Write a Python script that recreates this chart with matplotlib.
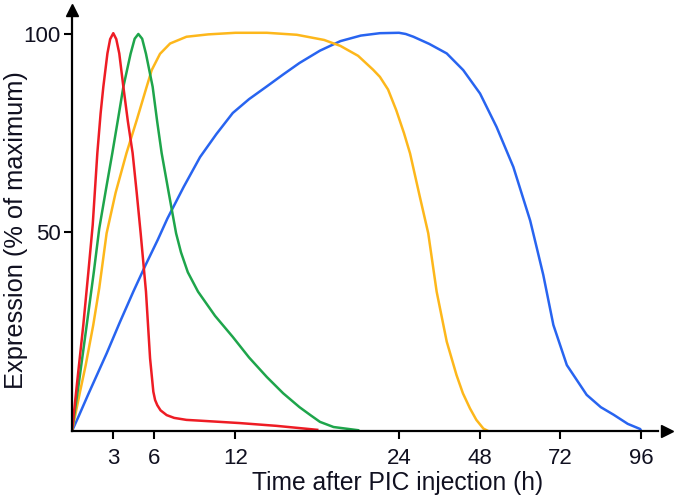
import numpy as np
import matplotlib
matplotlib.use("Agg")
import matplotlib.pyplot as plt

plt.rcParams['font.family'] = ['Liberation Sans', 'DejaVu Sans']

# hours after injection and % of maximum
red_t = [0, 0.4, 0.83, 1.2, 1.52, 1.86, 2.1, 2.3, 2.6, 2.8, 3.03, 3.25, 3.47, 3.77, 4.1, 4.45, 4.75,
         5.04, 5.43, 5.73, 5.97, 6.1, 6.26, 6.5, 6.95, 7.5, 8.4, 9.4, 12.3, 15, 18]
red_y = [0, 13, 26.7, 40, 51.9, 70, 80, 86.7, 95.1, 98.7, 100.2, 98.7, 95.1, 86.7, 78, 70, 60,
         49.8, 35.1, 18.3, 9.9, 7.8, 6.5, 5.2, 4, 3.3, 2.8, 2.6, 2.0, 1.3, 0.3]

green_t = [0, 0.5, 1.08, 1.6, 2.0, 2.5, 2.96, 3.4, 3.77, 4.3, 4.6, 4.87, 5.15, 5.43, 5.92, 6.25, 6.58,
           7.1, 7.64, 8.0, 8.5, 9.25, 10.5, 11.8, 13, 14.3, 15.5, 16.7, 17.5, 18.2, 19.2, 21]
green_y = [0, 12, 26.7, 40, 51, 61, 70, 79, 86.7, 95, 98.8, 100, 98.8, 95, 86.7, 78, 70,
           60, 49.8, 45, 40, 35.1, 29, 23.7, 18.5, 13.6, 9.5, 6, 4, 2.3, 1, 0.2]

yellow_t = [0, 0.59, 1.0, 1.56, 2.0, 2.54, 3.2, 4.0, 4.75, 5.48, 5.85, 6.46, 7.2, 8.4, 10, 12, 14.3,
            16.5, 18.5, 19.7, 21, 22.1, 22.6, 23.2, 23.8, 25.5, 27.3, 30.2, 32.7, 35.2, 38.2, 41.1,
            43, 45.1, 47, 49.1, 50.5]
yellow_y = [0, 9.9, 16.5, 26.7, 36, 49.8, 60, 70, 78.3, 86.7, 90.9, 95, 97.6, 99.3, 99.9, 100.3, 100.3,
            99.8, 98.5, 97, 94.5, 91, 89.2, 86, 80.8, 75, 69.9, 59, 49.8, 35.1, 22.5, 14.1,
            9.5, 5.7, 2.8, 0.6, 0]

blue_t = [0, 0.5, 1.2, 2.55, 3.5, 4.5, 5.4, 6.3, 7.0, 8.2, 9.4, 10.6, 11.8, 13, 14.3, 15.5, 16.7,
          18.2, 19.7, 21.2, 22.6, 24, 26, 28.3, 33, 38.2, 43.1, 48.1, 53, 58, 63, 65, 66.9, 69.9,
          73.9, 79.8, 84, 87.8, 92, 95.7, 96]
blue_y = [0, 3.8, 9.3, 19.6, 27.3, 35.1, 41.8, 48.2, 53.5, 61.5, 69, 74.8, 80.1, 83.6, 86.8, 89.8, 92.7,
          95.8, 98.2, 99.6, 100.2, 100.3, 100, 99.3, 97.5, 95.1, 90.9, 85, 76.6, 66.5, 53, 46, 39.3, 26.7,
          16.6, 9.1, 6, 4.1, 1.8, 0.5, 0]

x_ticks = [3, 6, 12, 24, 48, 72, 96]
y_ticks = [50, 100]

# time axis is linear up to 24 h, then compressed
k = 4.05
def fwd(t):
    t = np.asarray(t, dtype=float)
    return np.where(t <= 24, t, 24 + (t - 24) / k)

def inv(u):
    u = np.asarray(u, dtype=float)
    return np.where(u <= 24, u, 24 + (u - 24) * k)

fig = plt.figure(figsize=(6.75, 4.98), dpi=100)
ax = fig.add_axes([72 / 675, 67 / 498, 600 / 675, 426 / 498])
ax.set_xscale('function', functions=(fwd, inv))

lw = 1.8
ax.plot(blue_t, blue_y, color='#2864f0', lw=lw, solid_joinstyle='round')
ax.plot(yellow_t, yellow_y, color='#fdb71b', lw=lw, solid_joinstyle='round')
ax.plot(green_t, green_y, color='#1ea54b', lw=lw, solid_joinstyle='round')
ax.plot(red_t, red_y, color='#ee1c24', lw=lw, solid_joinstyle='round')

ax.set_xlim(0, inv(44.04))
ax.set_ylim(0, 107.3)

for s in ['top', 'right']:
    ax.spines[s].set_visible(False)
for s in ['left', 'bottom']:
    ax.spines[s].set_linewidth(1.6)
    ax.spines[s].set_color('black')
ax.spines['bottom'].set_bounds(0, inv(43.0))
ax.spines['left'].set_bounds(0, 104.5)

# arrow heads on the axes
ax.plot([inv(43.68)], [0], marker='>', color='black', markersize=9, clip_on=False)
ax.plot([0], [106.0], marker='^', color='black', markersize=9, clip_on=False)

ax.set_xticks(x_ticks)
ax.set_xticklabels([str(v) for v in x_ticks])
ax.set_yticks(y_ticks)
ax.set_yticklabels([str(v) for v in y_ticks])
ax.minorticks_off()
ax.tick_params(axis='both', direction='out', length=6, width=1.5, labelsize=16, colors='black', labelcolor='#101020')
ax.tick_params(axis='x', pad=6)
ax.tick_params(axis='y', pad=2)

ax.set_xlabel('Time after PIC injection (h)', fontsize=17.7, color='#101020')
ax.set_ylabel('Expression (% of maximum)', fontsize=18.3, color='#101020')
ax.xaxis.set_label_coords((398 - 72) / 600, -(471 - 431) / 426)
ax.yaxis.set_label_coords(-(72 - 28) / 600, (431 - 230) / 426)

fig.savefig('out.png', dpi=100)
